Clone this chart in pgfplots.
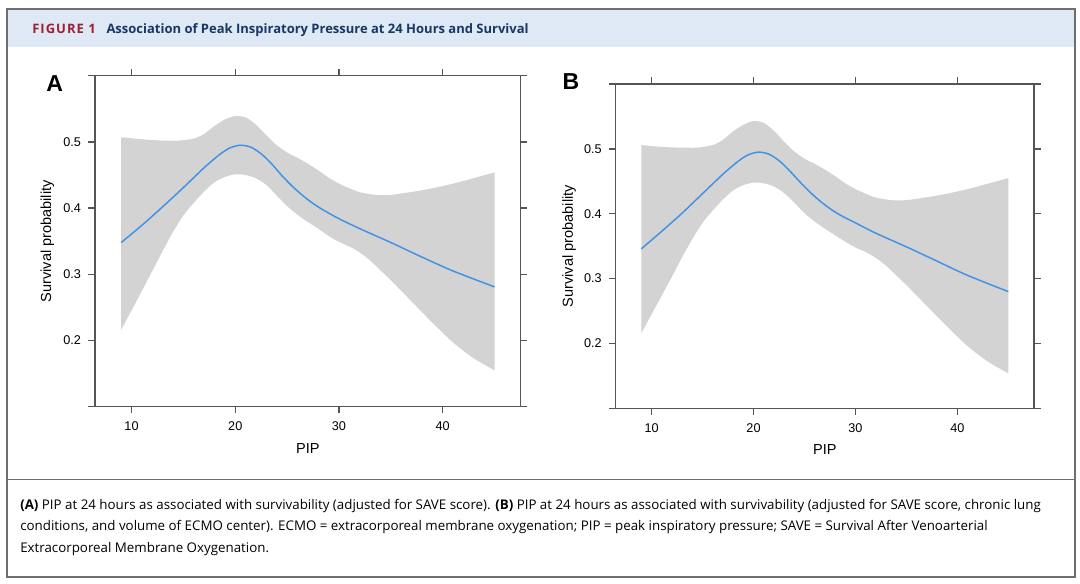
\documentclass[border=0pt]{standalone}
\usepackage{fontspec}
\setmainfont{Liberation Sans}
\newfontfamily\capfont{Open Sans}
\usepackage{pgfplots}
\pgfplotsset{compat=1.18}
\usepgfplotslibrary{fillbetween}

\definecolor{headerblue}{RGB}{222,233,245}
\definecolor{figred}{RGB}{160,30,50}
\definecolor{navy}{RGB}{25,55,100}
\definecolor{framegray}{RGB}{110,110,110}
\definecolor{axisgray}{RGB}{85,85,85}
\definecolor{bandgray}{RGB}{211,211,211}
\definecolor{curveblue}{RGB}{65,145,230}

\pgfplotsset{
  survstyle/.style={
    scale only axis,
    xmin=6.48, xmax=47.52, ymin=0.1, ymax=0.6,
    xtick={10,20,30,40}, ytick={0.2,0.3,0.4,0.5},
    tick align=outside, major tick length=5pt,
    separate axis lines,
    axis line style={draw=axisgray, line width=1.1pt},
    every outer x axis line/.append style={shorten <=-5pt, shorten >=-5pt},
    tick style={draw=axisgray, line width=1.1pt},
    tick label style={font=\fontsize{9.5}{10}\selectfont, text=black},
    xticklabel style={yshift=-3pt},
    yticklabel style={xshift=-2pt},
    /pgf/number format/assume math mode=true,
    label style={font=\fontsize{10.9}{12}\selectfont},
    xlabel=PIP, ylabel=Survival probability,
    xlabel style={at={(axis description cs:0.5,-0.125)}, anchor=center},
    ylabel style={at={(axis description cs:-0.112,0.5)}, anchor=center},
  },
}

\begin{document}
\begin{tikzpicture}
\begin{scope}[x=0.75pt, y=-0.75pt]
\useasboundingbox (0,0) rectangle (1080,583);
% frame, header band, caption divider
\fill[headerblue] (7,9) rectangle (1075,47);
\draw[framegray, line width=0.9pt] (7,9) rectangle (1075,577);
\draw[framegray, line width=0.9pt] (7,479.3) -- (1075,479.3);

\node[anchor=west, inner sep=0, font=\capfont\bfseries\fontsize{9.75}{12}\selectfont]
  at (32,29.7) {\textcolor{figred}{\addfontfeatures{LetterSpace=8}FIGURE 1}\hspace{8pt}\textcolor{navy}{Association of Peak Inspiratory Pressure at 24 Hours and Survival}};

\node[inner sep=0, font=\bfseries\fontsize{17.3}{18}\selectfont] at (54.7,83.3) {A};
\node[inner sep=0, font=\bfseries\fontsize{17.3}{18}\selectfont] at (571,81.3) {B};

% caption
\begin{scope}[every node/.style={anchor=base west, inner sep=0, font=\capfont\fontsize{10}{12}\selectfont}]
\node at (20,509) {\textbf{(A)} PIP at 24 hours as associated with survivability (adjusted for SAVE score). \textbf{(B)} PIP at 24 hours as associated with survivability (adjusted for SAVE score, chronic lung};
\node at (20,530.5) {conditions, and volume of ECMO center). ECMO = extracorporeal membrane oxygenation; PIP = peak inspiratory pressure; SAVE = Survival After Venoarterial};
\node at (20,552) {Extracorporeal Membrane Oxygenation.};
\end{scope}
\end{scope}

% panel A
\begin{axis}[survstyle, at={(71.25pt,-305.025pt)}, anchor=south west,
  width=319.3pt, height=248.25pt]
  \addplot[draw=none, smooth, name path=upA] coordinates {
    (9,0.507) (11,0.504) (13,0.502) (14.5,0.502) (16,0.505) (17,0.512)
    (18,0.524) (19,0.534) (20,0.539) (21,0.537) (22,0.526) (23,0.510)
    (24,0.495) (25,0.484) (26,0.476) (27,0.467) (28,0.457) (29,0.446)
    (30,0.437) (31,0.430) (32,0.424) (33.5,0.420) (35,0.420) (38,0.427)
    (41,0.437) (45,0.454)
  };
  \addplot[draw=none, smooth, name path=loA] coordinates {
    (9,0.216) (10,0.2455) (11,0.275) (12,0.305) (13,0.335) (14,0.364)
    (15,0.389) (16,0.408) (17,0.425) (18,0.439) (19,0.447) (20,0.451)
    (21,0.450) (22,0.445) (23,0.435) (24,0.419) (25,0.403) (26,0.390)
    (27,0.379) (28,0.369) (29,0.358) (30,0.349) (31,0.342) (32,0.333)
    (33,0.321) (34,0.306) (35,0.291) (37,0.259) (39,0.227) (41,0.197)
    (43,0.173) (45,0.155)
  };
  \addplot[fill=bandgray, draw=none] fill between[of=upA and loA];
  \addplot[curveblue, line width=1.1pt, smooth] coordinates {
    (9,0.348) (11,0.374) (13,0.402) (15,0.431) (17,0.461) (18.5,0.481)
    (19.5,0.491) (20.5,0.495) (21.5,0.492) (22.5,0.482) (23.5,0.467)
    (24.5,0.449) (25.5,0.433) (26.5,0.419) (27.5,0.407) (28.5,0.397)
    (30,0.384) (32,0.369) (35,0.348) (38,0.326) (41,0.305) (45,0.281)
  };
\end{axis}

% panel B
\begin{axis}[survstyle, at={(461.775pt,-306.225pt)}, anchor=south west,
  width=313.7pt, height=243.2pt,
  ylabel style={at={(axis description cs:-0.1116,0.5)}, anchor=center},
  xlabel style={at={(axis description cs:0.5,-0.1255)}, anchor=center}]
  \addplot[draw=none, smooth, name path=upB] coordinates {
    (9,0.506) (11,0.503) (13,0.502) (14.5,0.502) (16,0.506) (17,0.514)
    (18,0.527) (19,0.537) (20,0.543) (21,0.540) (22,0.528) (23,0.511)
    (24,0.496) (25,0.485) (26,0.477) (27,0.468) (28,0.458) (29,0.447)
    (30,0.438) (31,0.431) (32,0.425) (33.5,0.421) (35,0.421) (38,0.428)
    (41,0.438) (45,0.455)
  };
  \addplot[draw=none, smooth, name path=loB] coordinates {
    (9,0.216) (10,0.245) (11,0.274) (12,0.303) (13,0.333) (14,0.361)
    (15,0.386) (16,0.405) (17,0.422) (18,0.436) (19,0.444) (20,0.448)
    (21,0.447) (22,0.442) (23,0.432) (24,0.417) (25,0.401) (26,0.388)
    (27,0.377) (28,0.367) (29,0.357) (30,0.348) (31,0.341) (32,0.332)
    (33,0.320) (34,0.305) (35,0.290) (37,0.258) (39,0.226) (41,0.196)
    (43,0.172) (45,0.154)
  };
  \addplot[fill=bandgray, draw=none] fill between[of=upB and loB];
  \addplot[curveblue, line width=1.1pt, smooth] coordinates {
    (9,0.346) (11,0.373) (13,0.401) (15,0.431) (17,0.461) (18.5,0.481)
    (19.5,0.491) (20.5,0.495) (21.5,0.492) (22.5,0.482) (23.5,0.467)
    (24.5,0.450) (25.5,0.434) (26.5,0.420) (27.5,0.408) (28.5,0.398)
    (30,0.386) (32,0.370) (35,0.349) (38,0.327) (41,0.305) (45,0.280)
  };
\end{axis}
\end{tikzpicture}
\end{document}
